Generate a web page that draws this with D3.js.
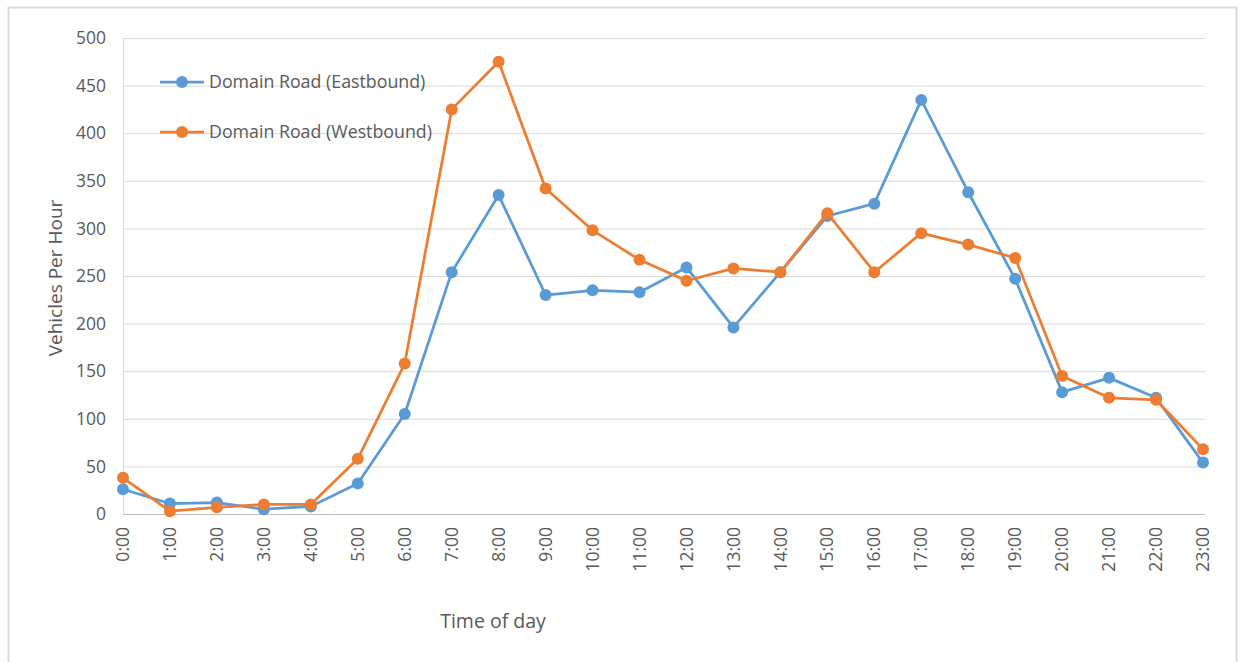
<!DOCTYPE html>
<html><head><meta charset="utf-8">
<script src="https://cdn.jsdelivr.net/npm/d3@7"></script>
<style>body{margin:0;background:#fff}svg{display:block}</style>
</head><body><svg id="c" width="1243" height="662"></svg>
<script>
const hours = ["0:00","1:00","2:00","3:00","4:00","5:00","6:00","7:00","8:00","9:00","10:00","11:00","12:00","13:00","14:00","15:00","16:00","17:00","18:00","19:00","20:00","21:00","22:00","23:00"];
const eastbound = [26,11,12,5,8,32,105,254,335,230,235,233,259,196,254,313,326,435,338,247,128,143,122,54];
const westbound = [38,3,7,10,10,58,158,425,475,342,298,267,245,258,254,316,254,295,283,269,145,122,120,68];
const yTicks = [0,50,100,150,200,250,300,350,400,450,500];
const seriesNames = ["Domain Road (Eastbound)","Domain Road (Westbound)"];
const colors = ["#5B9BD5","#ED7D31"];

const svg = d3.select("#c");
const font = "'Open Sans', sans-serif";
svg.append("rect").attr("x",8.5).attr("y",7.5).attr("width",1228).attr("height",670)
  .attr("fill","#fff").attr("stroke","#d9d9d9").attr("stroke-width",2);

const x = d3.scalePoint().domain(hours).range([123,1203]);
const y = d3.scaleLinear().domain([0,500]).range([514,38]);

svg.append("g").selectAll("line").data(yTicks.filter(d=>d>0)).join("line")
  .attr("x1",123).attr("x2",1205).attr("y1",d=>y(d)+0.5).attr("y2",d=>y(d)+0.5)
  .attr("stroke","#d9d9d9").attr("stroke-width",1);
svg.append("line").attr("x1",123.5).attr("x2",123.5).attr("y1",y(500)).attr("y2",y(0))
  .attr("stroke","#d9d9d9");
svg.append("line").attr("x1",123).attr("x2",1205).attr("y1",y(0)+0.5).attr("y2",y(0)+0.5)
  .attr("stroke","#bfbfbf");

svg.append("g").selectAll("text").data(yTicks).join("text")
  .attr("x",106).attr("y",d=>y(d)).attr("dy","0.35em").attr("text-anchor","end")
  .attr("font-family",font).attr("font-size",17.5).attr("fill","#595959").text(d=>d);

svg.append("g").selectAll("text").data(hours).join("text")
  .attr("transform",d=>`translate(${x(d)},527) rotate(-90)`)
  .attr("dy","0.35em").attr("text-anchor","end")
  .attr("font-family",font).attr("font-size",17.5).attr("fill","#595959").text(d=>d);

svg.append("text").attr("transform","translate(55,278) rotate(-90)").attr("text-anchor","middle")
  .attr("dy","0.35em").attr("font-family",font).attr("font-size",19).attr("fill","#595959").text("Vehicles Per Hour");
svg.append("text").attr("x",493).attr("y",621).attr("text-anchor","middle").attr("dy","0.35em")
  .attr("font-family",font).attr("font-size",19.5).attr("fill","#595959").text("Time of day");

const data = [eastbound, westbound];
const line = d3.line().x((d,i)=>x(hours[i])).y(d=>y(d));
data.forEach((vals,k)=>{
  const g = svg.append("g");
  g.append("path").datum(vals).attr("d",line).attr("fill","none")
    .attr("stroke",colors[k]).attr("stroke-width",2.75).attr("stroke-linejoin","round");
  g.selectAll("circle").data(vals).join("circle")
    .attr("cx",(d,i)=>x(hours[i])).attr("cy",d=>y(d)).attr("r",6).attr("fill",colors[k]);
});

const leg = svg.append("g");
seriesNames.forEach((n,k)=>{
  const ly = 82 + k*50;
  leg.append("line").attr("x1",160).attr("x2",204).attr("y1",ly).attr("y2",ly)
    .attr("stroke",colors[k]).attr("stroke-width",2.75);
  leg.append("circle").attr("cx",182).attr("cy",ly).attr("r",6).attr("fill",colors[k]);
  leg.append("text").attr("x",209).attr("y",ly).attr("dy","0.35em")
    .attr("font-family",font).attr("font-size",17.8).attr("fill","#595959").text(n);
});
</script></body></html>
